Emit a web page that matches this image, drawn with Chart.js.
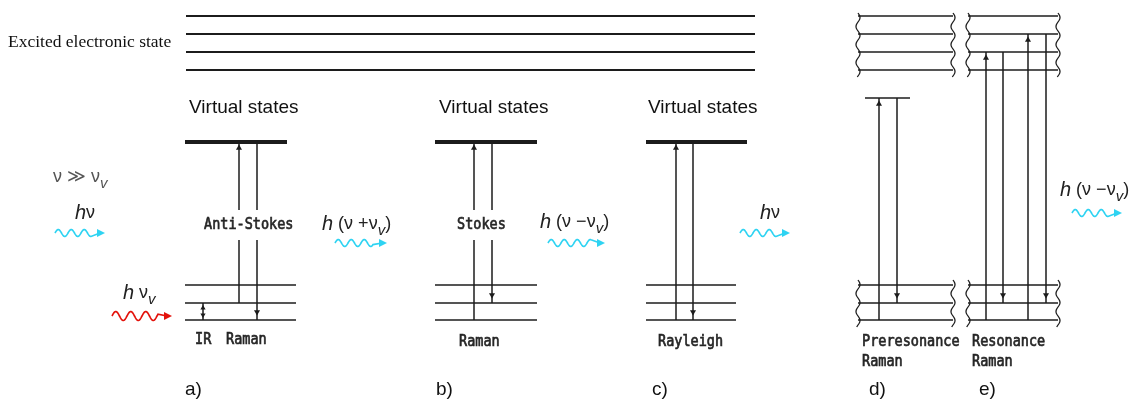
<!DOCTYPE html>
<html>
<head>
<meta charset="utf-8">
<script src="https://cdn.jsdelivr.net/npm/chart.js@4/dist/chart.umd.min.js"></script>
<style>
  body { margin: 0; background: #fff; }
  #wrap { width: 1137px; height: 402px; }
</style>
</head>
<body>
<div id="wrap"><canvas id="diagram" width="1137" height="402"></canvas></div>
<script>
// Energy levels (y = vertical position of the level, top = 0)
const excitedLevels = [16, 34, 52, 70];
const excitedSpan = [186, 755];
const virtualLevels = [142, 142, 142, 98];
const virtualLeft = [185, 435, 646, 865];
const virtualRight = [287, 537, 747, 910];
const groundLevels = [285, 303, 320];
const groundLeft = [185, 435, 646, 858, 968];
const groundRight = [296, 537, 736, 953, 1058];
const bandLeft = [858, 968];
const bandRight = [953, 1058];

// Transitions
const upX = [239, 474, 676, 879, 986, 1028];
const upFrom = [303, 320, 320, 320, 320, 320];
const upTo = [142, 142, 142, 98, 52, 34];
const downX = [257, 492, 693, 897, 1003, 1046];
const downFrom = [142, 142, 142, 98, 52, 34];
const downTo = [320, 303, 320, 303, 303, 303];
const irX = 203;

// Photons: [start, end, level]
const cyanWaves = [[55, 105, 233], [335, 387, 243], [548, 605, 243], [740, 790, 233], [1072, 1122, 213]];
const redWaves = [[112, 172, 316]];

// Texts
const captionTexts = ['Excited electronic state', 'Virtual states', 'Virtual states', 'Virtual states'];
const captionX = [8, 189, 439, 648];
const captionY = [42, 108, 108, 108];
const sketchTexts = ['Anti-Stokes', 'IR', 'Raman', 'Stokes', 'Raman', 'Rayleigh', 'Preresonance', 'Raman', 'Resonance', 'Raman'];
const sketchX = [204, 195, 226, 457, 459, 658, 862, 862, 972, 972];
const sketchY = [225, 340, 340, 225, 342, 342, 342, 362, 342, 362];
const panelNames = ['a)', 'b)', 'c)', 'd)', 'e)'];
const panelX = [185, 436, 652, 869, 979];
const panelY = 390;
const formulaRuns = [
  [['ν ≫ ν', ''], ['v', 's']],
  [['h', 'i'], ['ν', '']],
  [['h', 'i'], [' ν', ''], ['v', 's']],
  [['h', 'i'], [' (ν +ν', ''], ['v', 's'], [')', '']],
  [['h', 'i'], [' (ν −ν', ''], ['v', 's'], [')', '']],
  [['h', 'i'], ['ν', '']],
  [['h', 'i'], [' (ν −ν', ''], ['v', 's'], [')', '']]
];
const formulaX = [53, 75, 123, 322, 540, 760, 1060];
const formulaY = [177, 213, 293, 224, 222, 213, 190];

const ink = '#1c1c1c';

function segment(x0, y0, x1, y1, width) {
  return {
    data: [{x: x0, y: y0}, {x: x1, y: y1}],
    showLine: true, borderColor: ink, borderWidth: width || 1.5,
    pointRadius: 0
  };
}

function arrow(x, from, to) {
  const up = to < from;
  const head = up ? to + 6 : to - 8;
  const pts = [{x: x, y: from}, {x: x, y: head}, {x: x, y: to}];
  return {
    data: pts, showLine: true, borderColor: ink, borderWidth: 1.5,
    pointRadius: [0, 3.5, 0], pointStyle: 'triangle',
    rotation: up ? 0 : 180, pointBackgroundColor: ink, pointBorderWidth: 0
  };
}

const datasets = [];
excitedLevels.forEach(l => datasets.push(segment(excitedSpan[0], l, excitedSpan[1], l, 2)));
virtualLevels.forEach((l, i) => datasets.push(segment(virtualLeft[i], l, virtualRight[i], l, i < 3 ? 4 : 1.5)));
groundLeft.forEach((left, i) => {
  groundLevels.forEach(l => datasets.push(segment(left, l, groundRight[i], l, 1.5)));
});
bandLeft.forEach((left, i) => {
  excitedLevels.forEach(l => datasets.push(segment(left, l, bandRight[i], l, 1.5)));
});
upX.forEach((x, i) => datasets.push(arrow(x, upFrom[i], upTo[i])));
downX.forEach((x, i) => datasets.push(arrow(x, downFrom[i], downTo[i])));
// IR double arrow
datasets.push({
  data: [{x: irX, y: groundLevels[1]}, {x: irX, y: groundLevels[1] + 5}, {x: irX, y: groundLevels[2] - 5}, {x: irX, y: groundLevels[2]}],
  showLine: true, borderColor: ink, borderWidth: 1.5,
  pointRadius: [0, 3, 3, 0], pointStyle: 'triangle', rotation: [0, 0, 180, 0],
  pointBackgroundColor: ink, pointBorderWidth: 0
});

const decorations = {
  id: 'decorations',
  afterDatasetsDraw(chart) {
    const ctx = chart.ctx;
    const sx = v => chart.scales.x.getPixelForValue(v);
    const sy = v => chart.scales.y.getPixelForValue(v);
    ctx.save();

    // wavy band edges (d, e)
    ctx.strokeStyle = ink;
    ctx.lineWidth = 1.3;
    const edge = (x, top, bottom) => {
      ctx.beginPath();
      for (let yy = top; yy <= bottom; yy += 1) {
        const off = Math.sin((yy - top) / 18 * Math.PI * 2) * 2;
        if (yy === top) ctx.moveTo(sx(x) + off, sy(yy)); else ctx.lineTo(sx(x) + off, sy(yy));
      }
      ctx.stroke();
    };
    bandLeft.forEach((left, i) => {
      [left, bandRight[i]].forEach(x => {
        edge(x, excitedLevels[0] - 3, excitedLevels[3] + 7);
        edge(x, groundLevels[0] - 5, groundLevels[2] + 7);
      });
    });

    // photons
    const wave = (w, color, amp, len) => {
      const x0 = sx(w[0]), x1 = sx(w[1]), y = sy(w[2]);
      const end = x1 - 14;
      ctx.strokeStyle = color; ctx.fillStyle = color; ctx.lineWidth = 1.7;
      ctx.beginPath();
      for (let xx = x0; xx <= end; xx += 0.5) {
        const yy = y - Math.sin((xx - x0) / len * Math.PI * 2) * amp;
        if (xx === x0) ctx.moveTo(xx, yy); else ctx.lineTo(xx, yy);
      }
      ctx.lineTo(x1 - 5, y);
      ctx.stroke();
      ctx.beginPath();
      ctx.moveTo(x1, y); ctx.lineTo(x1 - 8, y - 4); ctx.lineTo(x1 - 8, y + 4);
      ctx.closePath(); ctx.fill();
    };
    cyanWaves.forEach(w => wave(w, '#2ed3f2', 3.5, 13));
    redWaves.forEach(w => wave(w, '#e3120b', 4.5, 15));

    ctx.textBaseline = 'middle';
    ctx.textAlign = 'left';
    // captions
    captionTexts.forEach((t, i) => {
      ctx.fillStyle = '#111';
      ctx.font = i === 0 ? '17.5px "Liberation Serif"' : '19px "Liberation Sans"';
      ctx.fillText(t, sx(captionX[i]), sy(captionY[i]));
    });
    // hand-lettered labels (monospaced technical lettering)
    ctx.font = '13.5px "DejaVu Sans Mono"';
    sketchTexts.forEach((t, i) => {
      const w = ctx.measureText(t).width;
      const x = sx(sketchX[i]), y = sy(sketchY[i]);
      if (t.indexOf('Stokes') >= 0) {
        ctx.fillStyle = '#fff';
        ctx.fillRect(x - 3, y - 15, w + 6, 30);
      }
      ctx.fillStyle = '#262626';
      ctx.strokeStyle = '#262626';
      ctx.lineWidth = 0.6;
      ctx.save();
      ctx.translate(x, y);
      ctx.scale(1.0, 1.12);
      ctx.fillText(t, 0, 0);
      ctx.strokeText(t, 0, 0);
      ctx.restore();
    });
    // panel names
    ctx.font = '19px "Liberation Sans"';
    ctx.fillStyle = '#111';
    panelNames.forEach((t, i) => ctx.fillText(t, sx(panelX[i]), sy(panelY)));
    // formulas
    formulaRuns.forEach((runs, i) => {
      let x = sx(formulaX[i]);
      const y = sy(formulaY[i]);
      ctx.fillStyle = i === 0 ? '#555' : '#222';
      runs.forEach(r => {
        let dy = 0;
        if (r[1] === 'i') ctx.font = 'italic 20px "Liberation Sans"';
        else if (r[1] === 's') { ctx.font = 'italic 15px "Liberation Sans"'; dy = 7; }
        else ctx.font = '18px "Liberation Sans"';
        ctx.fillText(r[0], x, y + dy);
        x += ctx.measureText(r[0]).width;
      });
    });
    ctx.restore();
  }
};

new Chart(document.getElementById('diagram'), {
  type: 'scatter',
  data: { datasets: datasets },
  options: {
    responsive: false,
    animation: false,
    layout: { padding: 0 },
    scales: {
      x: { type: 'linear', min: 0, max: 1137, display: false },
      y: { type: 'linear', min: 0, max: 402, reverse: true, display: false }
    },
    plugins: { legend: { display: false }, tooltip: { enabled: false } },
    elements: { line: { tension: 0 } }
  },
  plugins: [decorations]
});
</script>
</body>
</html>
